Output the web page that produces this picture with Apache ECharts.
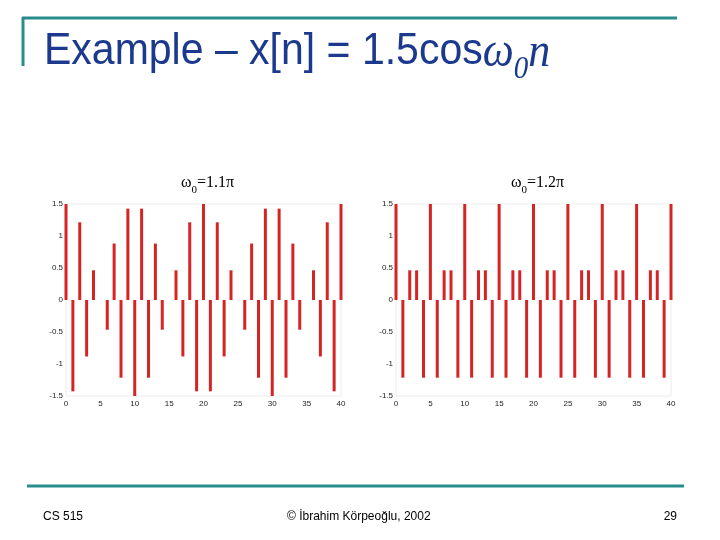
<!DOCTYPE html>
<html>
<head>
<meta charset="utf-8">
<script src="https://cdn.jsdelivr.net/npm/echarts@6/dist/echarts.min.js"></script>
<style>html,body{margin:0;padding:0;background:#fff}#c{width:720px;height:540px}</style>
</head>
<body>
<div id="c"></div>
<script>
// sample index n
var samples = [0,1,2,3,4,5,6,7,8,9,10,11,12,13,14,15,16,17,18,19,20,21,22,23,24,25,26,27,28,29,30,31,32,33,34,35,36,37,38,39,40];
// x[n] for w0 = 1.1pi
var valuesLeft = [1.5,-1.427,1.214,-0.882,0.464,0,-0.464,0.882,-1.214,1.427,-1.5,1.427,-1.214,0.882,-0.464,0,0.464,-0.882,1.214,-1.427,1.5,-1.427,1.214,-0.882,0.464,0,-0.464,0.882,-1.214,1.427,-1.5,1.427,-1.214,0.882,-0.464,0,0.464,-0.882,1.214,-1.427,1.5];
// x[n] for w0 = 1.2pi
var valuesRight = [1.5,-1.214,0.464,0.464,-1.214,1.5,-1.214,0.464,0.464,-1.214,1.5,-1.214,0.464,0.464,-1.214,1.5,-1.214,0.464,0.464,-1.214,1.5,-1.214,0.464,0.464,-1.214,1.5,-1.214,0.464,0.464,-1.214,1.5,-1.214,0.464,0.464,-1.214,1.5,-1.214,0.464,0.464,-1.214,1.5];
var xTicks = [0,5,10,15,20,25,30,35,40];
var yTicks = [-1.5,-1,-0.5,0,0.5,1,1.5];
var subTitles = ['1.1\u03c0','1.2\u03c0'];

var chart = echarts.init(document.getElementById('c'), null, {renderer:'canvas'});
function pairs(vals){ return samples.map(function(n,i){ return [n, vals[i]]; }); }
function xAx(gi){ return {gridIndex:gi,type:'value',min:xTicks[0],max:xTicks[xTicks.length-1],interval:5,
  axisLine:{show:false},axisTick:{show:false},splitLine:{show:false},
  axisLabel:{fontSize:8,color:'#222',margin:4,fontFamily:'Liberation Sans'}}; }
function yAx(gi){ return {gridIndex:gi,type:'value',min:yTicks[0],max:yTicks[yTicks.length-1],interval:0.5,
  axisLine:{show:false},axisTick:{show:false},splitLine:{show:false},
  axisLabel:{fontSize:8,color:'#222',margin:3,fontFamily:'Liberation Sans'}}; }
var teal = '#2a8c8c';
var blue = '#1b3a8e';
function sub(x, label){
  return {type:'text',left:x,top:175,style:{
    text:'{a|\u03c9}{s|0}{a|='+label+'}',
    rich:{a:{fontFamily:'Liberation Serif',fontSize:16,fill:'#000',lineHeight:20,verticalAlign:'top'},
          s:{fontFamily:'Liberation Serif',fontSize:11,fill:'#000',lineHeight:11,padding:[10,0,0,0],verticalAlign:'top'}}}};
}
chart.setOption({
  backgroundColor:'#fff',
  animation:false,
  grid:[
    {left:66,right:379,top:204,bottom:144,show:true,borderColor:'#ececec',borderWidth:1},
    {left:396,right:49,top:204,bottom:144,show:true,borderColor:'#ececec',borderWidth:1}
  ],
  xAxis:[xAx(0),xAx(1)],
  yAxis:[yAx(0),yAx(1)],
  series:[
    {type:'bar',xAxisIndex:0,yAxisIndex:0,data:pairs(valuesLeft),barWidth:3,itemStyle:{color:'#d42424'}},
    {type:'bar',xAxisIndex:1,yAxisIndex:1,data:pairs(valuesRight),barWidth:3,itemStyle:{color:'#d42424'}}
  ],
  graphic:[
    {type:'line',shape:{x1:22,y1:18,x2:677,y2:18},style:{stroke:teal,lineWidth:3}},
    {type:'line',shape:{x1:23,y1:17,x2:23,y2:66},style:{stroke:teal,lineWidth:3}},
    {type:'line',shape:{x1:27,y1:486,x2:684,y2:486},style:{stroke:teal,lineWidth:3}},
    {type:'text',left:44,top:30,scaleY:1.08,style:{
      text:'{t|Example \u2013 x[n] = 1.5cos}{w|\u03c9}{s|0}{w|n}',
      rich:{t:{fontFamily:'Liberation Sans',fontSize:41,fill:blue,lineHeight:46,verticalAlign:'top'},
            w:{fontFamily:'Liberation Serif',fontStyle:'italic',fontSize:44,fill:blue,lineHeight:46,verticalAlign:'top'},
            s:{fontFamily:'Liberation Serif',fontStyle:'italic',fontSize:29,fill:blue,lineHeight:29,padding:[22,0,0,0],verticalAlign:'top'}}}},
    sub(181, subTitles[0]),
    sub(511, subTitles[1]),
    {type:'text',left:43,top:511,style:{text:'CS 515',fontFamily:'Liberation Sans',fontSize:12,fill:'#000'}},
    {type:'text',left:287,top:511,style:{text:'\u00a9 \u0130brahim K\u00f6rpeo\u011flu, 2002',fontFamily:'Liberation Sans',fontSize:12,fill:'#000'}},
    {type:'text',right:43,top:511,style:{text:'29',fontFamily:'Liberation Sans',fontSize:12,fill:'#000'}}
  ]
});
</script>
</body>
</html>
